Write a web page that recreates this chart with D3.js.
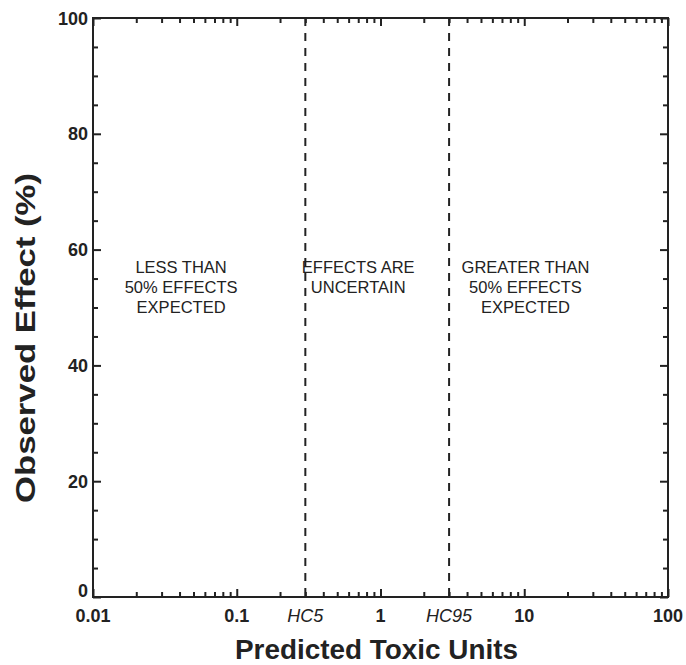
<!DOCTYPE html>
<html>
<head>
<meta charset="utf-8">
<script src="https://cdn.jsdelivr.net/npm/d3@7"></script>
<style>
  html, body { margin: 0; padding: 0; background: #fff; }
  svg { display: block; }
  text { font-family: "Liberation Sans", Arial, Helvetica, sans-serif; fill: #222; }
</style>
</head>
<body>
<script>
// ---- data ----
const xDomain = [0.01, 100];
const yDomain = [0, 100];
const xMajorTicks = [0.01, 0.1, 1, 10, 100];
const xMajorLabels = ["0.01", "0.1", "1", "10", "100"];
const yMajorTicks = [0, 20, 40, 60, 80, 100];
const yMinorStep = 5;
const hcValues = [0.3, 3];
const hcLabels = ["HC5", "HC95"];
const regionX = [0.041, 0.70, 10.2];
const regionLines = [
  ["LESS THAN", "50% EFFECTS", "EXPECTED"],
  ["EFFECTS ARE", "UNCERTAIN"],
  ["GREATER THAN", "50% EFFECTS", "EXPECTED"]
];
const xTitle = "Predicted Toxic Units";
const yTitle = "Observed Effect (%)";

// ---- layout ----
const W = 686, H = 665;
const plot = { left: 93, right: 668, top: 18, bottom: 597 };
const ink = "#222";

const svg = d3.select("body").append("svg").attr("width", W).attr("height", H);

const x = d3.scaleLog().domain(xDomain).range([plot.left, plot.right]);
const y = d3.scaleLinear().domain(yDomain).range([plot.bottom, plot.top]);

// minor ticks
const xMinor = [];
for (let e = -2; e < 2; e++) for (let m = 2; m <= 9; m++) xMinor.push(m * Math.pow(10, e));
const yMinor = d3.range(yDomain[0], yDomain[1] + 0.001, yMinorStep).filter(v => !yMajorTicks.includes(v));

const MAJ = 8, MIN = 5;
function styleAxis(g) {
  g.selectAll(".domain").remove();
  g.selectAll("line").attr("stroke", ink).attr("stroke-width", 2);
}

// bottom
svg.append("g").attr("transform", `translate(0,${plot.bottom})`)
  .call(d3.axisBottom(x).tickValues(xMinor).tickSize(-MIN).tickFormat(""))
  .call(styleAxis);
svg.append("g").attr("transform", `translate(0,${plot.bottom})`)
  .call(d3.axisBottom(x).tickValues(xMajorTicks).tickSize(-MAJ).tickFormat(""))
  .call(styleAxis);
// top
svg.append("g").attr("transform", `translate(0,${plot.top})`)
  .call(d3.axisTop(x).tickValues(xMinor).tickSize(-MIN).tickFormat(""))
  .call(styleAxis);
svg.append("g").attr("transform", `translate(0,${plot.top})`)
  .call(d3.axisTop(x).tickValues(xMajorTicks).tickSize(-MAJ).tickFormat(""))
  .call(styleAxis);
// left
svg.append("g").attr("transform", `translate(${plot.left},0)`)
  .call(d3.axisLeft(y).tickValues(yMinor).tickSize(-MIN).tickFormat(""))
  .call(styleAxis);
svg.append("g").attr("transform", `translate(${plot.left},0)`)
  .call(d3.axisLeft(y).tickValues(yMajorTicks).tickSize(-MAJ).tickFormat(""))
  .call(styleAxis);
// right
svg.append("g").attr("transform", `translate(${plot.right},0)`)
  .call(d3.axisRight(y).tickValues(yMinor).tickSize(-MIN).tickFormat(""))
  .call(styleAxis);
svg.append("g").attr("transform", `translate(${plot.right},0)`)
  .call(d3.axisRight(y).tickValues(yMajorTicks).tickSize(-MAJ).tickFormat(""))
  .call(styleAxis);

// frame
svg.append("rect")
  .attr("x", plot.left).attr("y", plot.top)
  .attr("width", plot.right - plot.left).attr("height", plot.bottom - plot.top)
  .attr("fill", "none").attr("stroke", ink).attr("stroke-width", 2);

// x tick labels
svg.append("g").selectAll("text").data(xMajorTicks).join("text")
  .attr("x", d => x(d)).attr("y", 622)
  .attr("text-anchor", "middle")
  .attr("font-size", 18).attr("font-weight", "bold")
  .text((d, i) => xMajorLabels[i]);

// y tick labels
svg.append("g").selectAll("text").data(yMajorTicks).join("text")
  .attr("x", plot.left - 5).attr("y", d => y(d) + (d === 0 ? 0 : 6.5))
  .attr("text-anchor", "end")
  .attr("font-size", 18).attr("font-weight", "bold")
  .text(d => d);

// HC dashed lines
svg.append("g").selectAll("line").data(hcValues).join("line")
  .attr("x1", d => x(d)).attr("x2", d => x(d))
  .attr("y1", plot.top).attr("y2", plot.bottom)
  .attr("stroke", ink).attr("stroke-width", 2)
  .attr("stroke-dasharray", "8,7");

svg.append("g").selectAll("text").data(hcValues).join("text")
  .attr("x", d => x(d)).attr("y", 622)
  .attr("text-anchor", "middle")
  .attr("font-size", 18).attr("font-style", "italic")
  .text((d, i) => hcLabels[i]);

// region labels
regionLines.forEach((lines, i) => {
  const t = svg.append("text")
    .attr("x", x(regionX[i])).attr("y", 273)
    .attr("text-anchor", "middle")
    .attr("font-size", 16.5);
  lines.forEach((ln, j) => {
    t.append("tspan").attr("x", x(regionX[i])).attr("y", 273 + j * 20).text(ln);
  });
});

// axis titles
svg.append("text")
  .attr("x", 376.5).attr("y", 659)
  .attr("text-anchor", "middle")
  .attr("font-size", 27).attr("font-weight", "bold")
  .attr("textLength", 283).attr("lengthAdjust", "spacingAndGlyphs")
  .text(xTitle);

svg.append("text")
  .attr("transform", `translate(35,338) rotate(-90)`)
  .attr("text-anchor", "middle")
  .attr("font-size", 27).attr("font-weight", "bold")
  .attr("textLength", 330).attr("lengthAdjust", "spacingAndGlyphs")
  .text(yTitle);
</script>
</body>
</html>
